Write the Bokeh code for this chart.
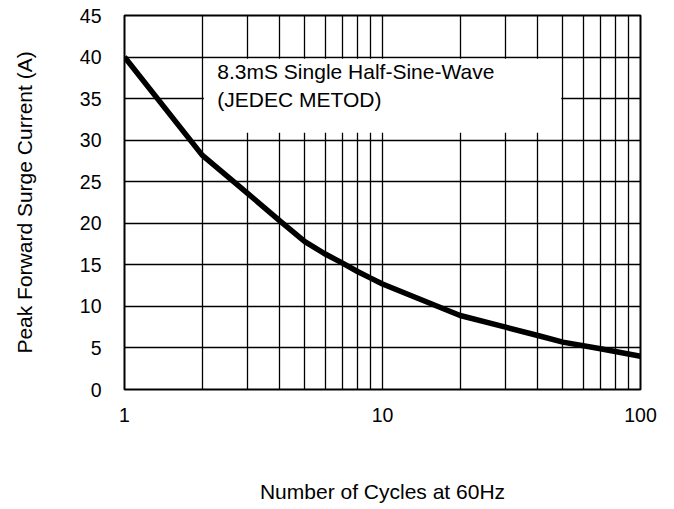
from bokeh.plotting import figure
from bokeh.models import Range1d, FixedTicker, BasicTickFormatter
from bokeh.core.properties import value
from bokeh.embed import file_html
from bokeh.resources import INLINE

# data
cycles = [1, 2, 3, 4, 5, 6, 7, 8, 9, 10, 20, 30, 40, 50, 70, 100]
current = [40, 28.2, 23.6, 20.3, 17.8, 16.3, 15.2, 14.2, 13.4, 12.7, 8.9, 7.5, 6.5, 5.7, 4.9, 4.0]
x_major = [1, 10, 100]
x_minor = [2, 3, 4, 5, 6, 7, 8, 9, 20, 30, 40, 50, 60, 70, 80, 90]
y_ticks = [0, 5, 10, 15, 20, 25, 30, 35, 40, 45]
note_lines = ["8.3mS Single Half-Sine-Wave", "(JEDEC METOD)"]
note_x = [2.29, 2.29]
note_y = [38.25, 34.85]

FONT = "Liberation Sans"

p = figure(frame_width=516, frame_height=374, x_axis_type="log",
           x_range=Range1d(1, 100), y_range=Range1d(0, 45),
           output_backend="svg", toolbar_location=None,
           min_border_left=124, min_border_right=30,
           min_border_top=15, min_border_bottom=118)
p.title.visible = False

p.xaxis.ticker = FixedTicker(ticks=x_major, minor_ticks=x_minor)
p.xaxis.formatter = BasicTickFormatter()
p.yaxis.ticker = FixedTicker(ticks=y_ticks)

p.xgrid.ticker = p.xaxis.ticker
p.xgrid.grid_line_color = "black"
p.xgrid.grid_line_width = 1.3
p.xgrid.minor_grid_line_color = "black"
p.xgrid.minor_grid_line_width = 1.3
p.ygrid.ticker = p.yaxis.ticker
p.ygrid.grid_line_color = "black"
p.ygrid.grid_line_width = 1.3

p.outline_line_color = "black"
p.outline_line_width = 2
p.outline_line_alpha = 1

for ax in (p.xaxis, p.yaxis):
    ax.axis_line_color = None
    ax.major_tick_line_color = None
    ax.minor_tick_line_color = None
    ax.major_label_text_font = FONT
    ax.major_label_text_font_size = "19.5px"
    ax.major_label_text_color = "black"
    ax.axis_label_text_font = FONT
    ax.axis_label_text_font_size = "21px"
    ax.axis_label_text_font_style = "normal"
    ax.axis_label_text_color = "black"

p.xaxis.axis_label = "Number of Cycles at 60Hz"
p.yaxis.axis_label = "Peak Forward Surge Current (A)"
p.xaxis.major_label_standoff = 12
p.yaxis.major_label_standoff = 17
p.xaxis.axis_label_standoff = 55
p.yaxis.axis_label_standoff = 41

# white annotation box
p.quad(left=[2.03], right=[49.3], bottom=[30.9], top=[39.8],
       fill_color="white", line_color=None)

p.line(cycles, current, line_color="black", line_width=5.5)

p.text(x=note_x, y=note_y, text=note_lines, text_font=value(FONT),
       text_font_size="21px", text_color="black",
       text_baseline="alphabetic", text_align="left")

open("out.html", "w").write(file_html(p, INLINE))
